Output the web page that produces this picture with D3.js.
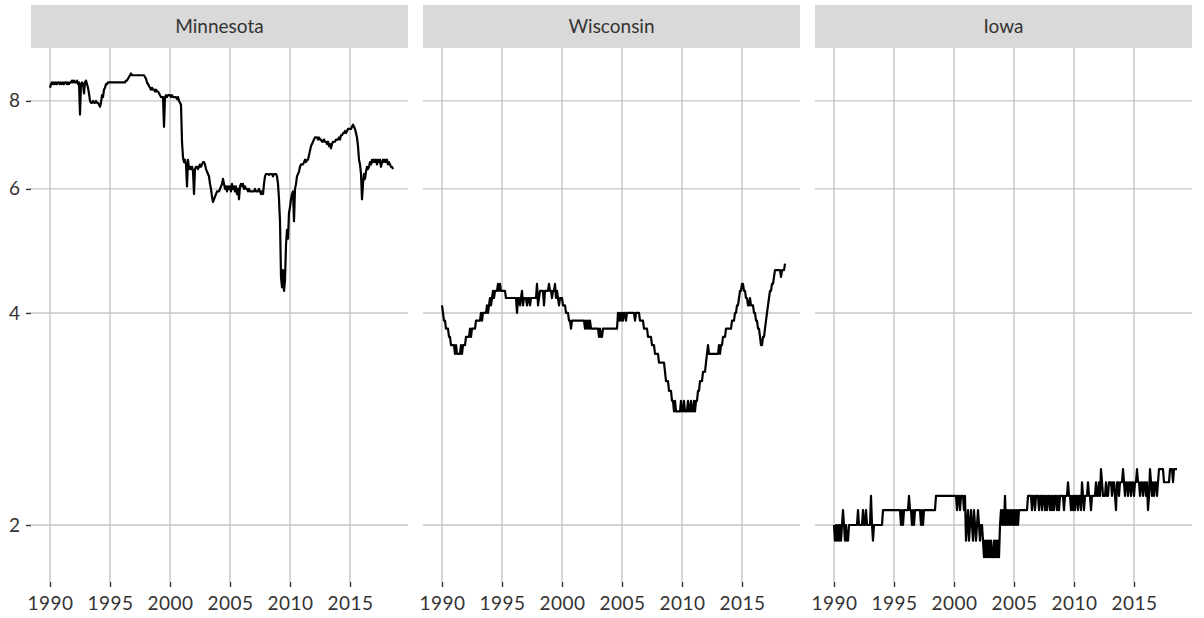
<!DOCTYPE html>
<head>
    <meta charset="utf-8">
    <title>Three states</title>
    <style>
        body { margin: 0; background: #fff; }
        text { font-family: Lato, "Open Sans", sans-serif; fill: #333; }
        .grid line { stroke: #c6c6c6; stroke-width: 1.4; }
        .strip { fill: #d9d9d9; }
        .series { fill: none; stroke: #000; stroke-width: 2.2; stroke-linejoin: round; }
    </style>
    <script src="https://cdn.jsdelivr.net/npm/d3@7"></script>
</head>
<body>
<svg width="1204" height="618"></svg>
<script>

// monthly values, January 1990 onwards
var startYear = 1990;

var states = ["Minnesota", "Wisconsin", "Iowa"];
var yearTicks = [1990, 1995, 2000, 2005, 2010, 2015];
var valueTicks = [2, 4, 6, 8];

var minnesota = [
  8.35,8.45,8.5,8.45,8.5,8.45,8.5,8.45,8.5,8.5,8.45,8.5,
  8.45,8.5,8.45,8.5,8.5,8.45,8.5,8.45,8.5,8.5,8.55,8.5,
  8.55,8.5,8.5,8.55,8.45,8.5,7.65,8.45,8.5,8.45,8.2,8.5,
  8.55,8.45,8.35,8.2,8.0,7.95,7.95,8.0,7.95,7.95,8.0,7.95,
  7.95,7.9,7.85,7.95,8.15,8.1,8.3,8.35,8.45,8.45,8.5,8.5,
  8.5,8.5,8.5,8.5,8.5,8.5,8.5,8.5,8.5,8.5,8.5,8.5,
  8.5,8.5,8.5,8.5,8.55,8.55,8.6,8.65,8.7,8.75,8.7,8.7,
  8.7,8.7,8.7,8.7,8.7,8.7,8.7,8.7,8.7,8.7,8.7,8.65,
  8.6,8.5,8.45,8.4,8.35,8.3,8.35,8.3,8.3,8.25,8.3,8.25,
  8.25,8.2,8.15,8.1,8.1,8.1,7.35,8.1,8.15,8.1,8.15,8.15,
  8.15,8.1,8.15,8.1,8.1,8.1,8.1,8.05,8.1,8.0,7.95,7.9,
  7.0,6.65,6.55,6.6,6.5,6.05,6.6,6.4,6.45,6.4,6.45,6.35,
  5.9,6.4,6.45,6.45,6.4,6.45,6.5,6.45,6.5,6.55,6.55,6.5,
  6.4,6.35,6.3,6.25,6.1,6.0,5.85,5.75,5.8,5.85,5.9,5.95,
  5.95,5.95,6.0,6.05,6.1,6.2,6.1,6.0,6.05,5.95,6.05,6.0,
  6.05,5.95,6.1,6.0,6.05,5.95,6.05,5.9,6.0,5.8,6.05,6.1,
  6.05,6.1,6.0,6.05,6.0,6.0,5.95,6.0,5.95,5.95,5.95,5.95,
  5.95,6.0,5.95,5.95,5.95,6.0,5.95,5.9,5.95,5.9,6.1,6.25,
  6.3,6.3,6.3,6.28,6.3,6.3,6.3,6.25,6.3,6.3,6.3,6.25,
  6.1,5.8,5.4,4.5,4.35,4.6,4.3,4.45,5.0,5.25,5.1,5.55,
  5.65,5.8,5.9,5.95,5.4,6.0,6.1,6.25,6.3,6.35,6.45,6.5,
  6.5,6.5,6.55,6.6,6.55,6.6,6.6,6.7,6.8,6.9,6.95,7.0,
  7.05,7.1,7.1,7.1,7.05,7.1,7.05,7.05,7.0,7.0,7.05,7.0,
  7.0,6.95,7.0,6.9,6.95,6.85,6.95,7.0,7.0,7.0,7.05,7.05,
  7.05,7.1,7.05,7.15,7.15,7.2,7.2,7.25,7.2,7.25,7.3,7.3,
  7.3,7.3,7.35,7.4,7.35,7.3,7.2,7.1,6.9,6.6,6.5,6.3,
  5.8,6.1,6.3,6.2,6.35,6.45,6.4,6.45,6.55,6.5,6.6,6.55,
  6.6,6.55,6.6,6.5,6.6,6.55,6.6,6.45,6.55,6.6,6.55,6.6,
  6.55,6.6,6.5,6.55,6.5,6.45,6.45,6.4
];

var wisconsin = [
  4.1,4.0,3.9,3.9,3.8,3.8,3.8,3.7,3.7,3.6,3.6,3.6,
  3.6,3.5,3.6,3.5,3.5,3.5,3.5,3.6,3.5,3.6,3.6,3.6,
  3.7,3.7,3.7,3.7,3.8,3.7,3.8,3.8,3.8,3.8,3.9,3.9,
  3.9,3.9,3.9,4.0,3.9,4.0,4.0,4.0,4.0,4.1,4.0,4.1,
  4.2,4.1,4.2,4.3,4.2,4.3,4.3,4.3,4.4,4.3,4.4,4.3,
  4.3,4.3,4.3,4.3,4.2,4.2,4.2,4.2,4.2,4.2,4.2,4.2,
  4.2,4.2,4.2,4.0,4.2,4.2,4.1,4.2,4.3,4.1,4.2,4.2,
  4.2,4.1,4.2,4.2,4.1,4.2,4.2,4.2,4.2,4.2,4.2,4.4,
  4.1,4.2,4.3,4.3,4.3,4.3,4.1,4.3,4.3,4.3,4.3,4.4,
  4.3,4.3,4.2,4.3,4.3,4.4,4.2,4.3,4.2,4.1,4.2,4.2,
  4.2,4.1,4.1,4.1,4.0,4.0,4.0,3.9,3.9,3.8,3.9,3.9,
  3.9,3.9,3.9,3.9,3.9,3.9,3.9,3.9,3.9,3.9,3.9,3.8,
  3.9,3.8,3.9,3.8,3.9,3.8,3.8,3.8,3.8,3.8,3.8,3.8,
  3.8,3.7,3.8,3.7,3.7,3.8,3.8,3.8,3.8,3.8,3.8,3.8,
  3.8,3.8,3.8,3.8,3.8,3.8,3.8,3.8,4.0,3.9,4.0,3.9,
  4.0,3.9,4.0,4.0,3.9,4.0,4.0,4.0,4.0,4.0,4.0,4.0,
  4.0,3.9,4.0,4.0,4.0,4.0,3.9,3.9,3.9,3.9,3.8,3.8,
  3.8,3.8,3.7,3.7,3.7,3.7,3.6,3.6,3.6,3.5,3.5,3.5,
  3.5,3.4,3.4,3.4,3.4,3.4,3.4,3.3,3.2,3.2,3.2,3.1,
  3.1,3.1,3.0,3.0,2.9,3.0,2.9,2.9,2.9,2.9,2.9,3.0,
  2.9,2.9,3.0,2.9,2.9,2.9,3.0,2.9,2.9,3.0,2.9,2.9,
  3.0,2.9,3.0,3.0,3.1,3.1,3.2,3.2,3.2,3.3,3.3,3.3,
  3.4,3.5,3.6,3.5,3.5,3.5,3.5,3.5,3.5,3.5,3.5,3.5,
  3.5,3.6,3.5,3.6,3.6,3.7,3.7,3.7,3.8,3.8,3.8,3.8,
  3.8,3.8,3.9,3.9,3.9,4.0,4.0,4.1,4.1,4.2,4.3,4.3,
  4.4,4.4,4.3,4.3,4.2,4.2,4.1,4.1,4.2,4.1,4.1,4.1,
  4.0,4.0,3.9,3.9,3.8,3.8,3.7,3.6,3.6,3.7,3.7,3.8,
  3.9,4.0,4.1,4.2,4.3,4.3,4.4,4.4,4.5,4.6,4.6,4.6,
  4.6,4.6,4.6,4.5,4.6,4.6,4.6,4.7
];

var iowa = [
  2.0,1.9,2.0,1.9,2.0,1.9,2.0,1.9,2.0,2.1,2.0,1.9,
  2.0,1.9,1.9,2.0,2.0,2.0,2.0,2.0,2.0,2.0,2.0,2.0,
  2.1,2.0,2.0,2.0,2.0,2.1,2.0,2.0,2.1,2.0,2.0,2.0,
  2.0,2.2,2.0,1.9,2.0,2.0,2.0,2.0,2.0,2.0,2.0,2.0,
  2.0,2.1,2.1,2.1,2.1,2.1,2.1,2.1,2.1,2.1,2.1,2.1,
  2.1,2.1,2.1,2.1,2.1,2.1,2.1,2.0,2.1,2.0,2.1,2.1,
  2.1,2.1,2.1,2.2,2.1,2.1,2.0,2.1,2.0,2.1,2.1,2.1,
  2.1,2.1,2.1,2.0,2.1,2.0,2.1,2.1,2.1,2.1,2.1,2.1,
  2.1,2.1,2.1,2.1,2.1,2.1,2.2,2.2,2.2,2.2,2.2,2.2,
  2.2,2.2,2.2,2.2,2.2,2.2,2.2,2.2,2.2,2.2,2.2,2.2,
  2.2,2.2,2.2,2.1,2.2,2.2,2.1,2.2,2.2,2.2,2.1,2.2,
  1.9,2.0,2.1,1.9,2.0,2.1,2.0,1.9,2.1,2.0,1.9,2.0,
  2.1,2.0,1.9,2.0,2.0,1.9,1.8,1.9,1.8,1.9,1.8,1.9,
  1.8,1.9,1.8,1.8,1.9,1.8,1.9,1.8,1.9,1.8,2.0,2.1,
  2.0,2.1,2.0,2.2,2.0,2.1,2.0,2.1,2.0,2.1,2.0,2.1,
  2.0,2.1,2.0,2.1,2.0,2.1,2.1,2.1,2.1,2.1,2.1,2.1,
  2.1,2.1,2.2,2.2,2.2,2.2,2.1,2.2,2.2,2.1,2.2,2.2,
  2.2,2.1,2.2,2.2,2.1,2.2,2.2,2.1,2.2,2.1,2.2,2.2,
  2.1,2.2,2.1,2.2,2.1,2.2,2.2,2.1,2.2,2.1,2.2,2.2,
  2.2,2.2,2.1,2.2,2.2,2.2,2.3,2.2,2.2,2.1,2.2,2.1,
  2.2,2.1,2.2,2.2,2.1,2.2,2.2,2.1,2.3,2.2,2.1,2.2,
  2.2,2.2,2.3,2.2,2.2,2.1,2.2,2.2,2.2,2.2,2.3,2.2,
  2.2,2.3,2.2,2.4,2.3,2.2,2.2,2.2,2.3,2.2,2.2,2.3,
  2.3,2.3,2.2,2.3,2.3,2.2,2.1,2.3,2.3,2.2,2.3,2.3,
  2.3,2.4,2.3,2.2,2.3,2.3,2.2,2.3,2.3,2.2,2.3,2.3,
  2.2,2.3,2.3,2.4,2.3,2.3,2.2,2.3,2.3,2.2,2.3,2.3,
  2.2,2.3,2.1,2.2,2.4,2.3,2.2,2.3,2.2,2.3,2.3,2.2,
  2.3,2.4,2.4,2.4,2.4,2.4,2.3,2.3,2.3,2.3,2.3,2.3,
  2.4,2.4,2.4,2.3,2.4,2.4,2.4,2.4
];

var seriesByState = { "Minnesota": minnesota, "Wisconsin": wisconsin, "Iowa": iowa };

var svg = d3.select("svg");

var panelW = 377,
    panelStep = 392,
    panelLeft = 31,
    stripTop = 5,
    panelTop = 48,
    panelBottom = 582;

var x = d3.scaleLinear()
    .domain([1988.417, 2019.833])
    .range([0, panelW]);

var y = d3.scaleLog()
    .domain([1.66, 9.51])
    .range([panelBottom, panelTop]);

var line = d3.line()
    .x(function(d, i) { return x(startYear + i / 12); })
    .y(function(d) { return y(d); })
    .curve(d3.curveLinear);

states.forEach(function(name, k) {
  var g = svg.append("g")
      .attr("transform", "translate(" + (panelLeft + k * panelStep) + ",0)");

  // strip
  g.append("rect")
      .attr("class", "strip")
      .attr("x", 0)
      .attr("y", stripTop)
      .attr("width", panelW)
      .attr("height", panelTop - stripTop);

  g.append("text")
      .attr("x", panelW / 2)
      .attr("y", (stripTop + panelTop) / 2)
      .attr("dy", "0.35em")
      .attr("text-anchor", "middle")
      .style("font-size", "19px")
      .text(name);

  // grid
  var grid = g.append("g").attr("class", "grid");
  grid.selectAll(".gy")
      .data(valueTicks)
    .enter().append("line")
      .attr("x1", 0).attr("x2", panelW)
      .attr("y1", function(d) { return y(d); })
      .attr("y2", function(d) { return y(d); });
  grid.selectAll(".gx")
      .data(yearTicks)
    .enter().append("line")
      .attr("x1", function(d) { return x(d); })
      .attr("x2", function(d) { return x(d); })
      .attr("y1", panelTop).attr("y2", panelBottom);

  // x axis
  var xAxis = g.append("g")
      .attr("transform", "translate(0," + panelBottom + ")")
      .call(d3.axisBottom(x).tickValues(yearTicks).tickFormat(d3.format("d")).tickSize(5).tickPadding(10));
  xAxis.select(".domain").remove();
  xAxis.selectAll(".tick line").attr("stroke", "#333").attr("stroke-width", 1.4);
  xAxis.selectAll("text").style("font-size", "19px").style("letter-spacing", "0.5px").attr("fill", "#333");

  // y axis only on the first panel
  if (k === 0) {
    var yAxis = g.append("g")
        .call(d3.axisLeft(y).tickValues(valueTicks).tickFormat(d3.format("d")).tickSize(5).tickPadding(6));
    yAxis.select(".domain").remove();
    yAxis.selectAll(".tick line").attr("stroke", "#333").attr("stroke-width", 1.4);
    yAxis.selectAll("text").style("font-size", "19px").attr("fill", "#333");
  }

  g.append("path")
      .datum(seriesByState[name])
      .attr("class", "series")
      .attr("d", line);
});

</script>
</body>
